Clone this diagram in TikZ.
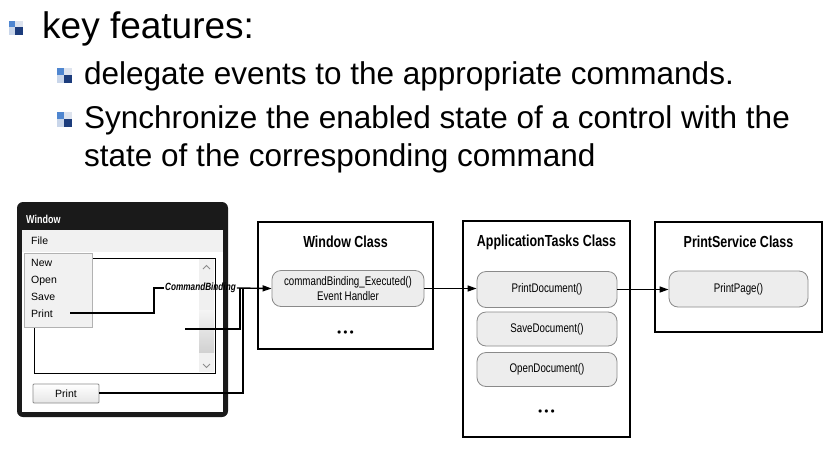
\documentclass[tikz,border=0pt]{standalone}
\usepackage{fontspec}
\setmainfont{Liberation Sans}
\newfontfamily\condfont[FakeStretch=0.78]{Liberation Sans}
\usetikzlibrary{arrows.meta}

\definecolor{blmid}{HTML}{4F86D0}
\definecolor{blpale}{HTML}{DDE3EE}
\definecolor{blsoft}{HTML}{C9D6EA}
\definecolor{bldark}{HTML}{1C3C7C}
\definecolor{methodfill}{HTML}{EDEDED}
\definecolor{methoddraw}{HTML}{8A8A8A}
\definecolor{menufill}{HTML}{F1F1F1}
\definecolor{framedark}{HTML}{1A1A1A}

\tikzset{
  pics/sqbullet/.style={code={
    \fill[blmid]  (0,0)     rectangle (0.45,0.45);
    \fill[blpale] (0.45,0)  rectangle (1,0.45);
    \fill[blsoft] (0,0.45)  rectangle (0.45,1);
    \fill[bldark] (0.45,0.45) rectangle (1,1);
  }},
  headline/.style={anchor=base west, inner sep=0pt, font=\fontsize{37}{37}\selectfont},
  subline/.style={anchor=base west, inner sep=0pt, font=\fontsize{31.5}{31.5}\selectfont},
  classbox/.style={draw=black, line width=1.6pt, fill=white},
  classtitle/.style={inner sep=0pt, font=\condfont\bfseries\fontsize{16}{16}\selectfont},
  method/.style={draw=methoddraw, line width=0.8pt, fill=methodfill, rounded corners=9pt,
    minimum height=36pt, align=center, inner sep=0pt,
    font=\condfont\fontsize{12.5}{15}\selectfont},
  dots/.style={inner sep=0pt, font=\bfseries\fontsize{8}{8}\selectfont},
  wire/.style={draw=black, line width=1.4pt},
  arrowwire/.style={wire, -{Triangle[length=9pt,width=6pt]}},
  menuitem/.style={anchor=base west, inner sep=0pt, font=\fontsize{10.5}{10.5}\selectfont},
}

\begin{document}
\begin{tikzpicture}[x=1pt,y=-1pt]
\useasboundingbox[fill=white] (0,0) rectangle (828,448);

% ---- bullet list ----
\pic[scale=14] at (9,21) {sqbullet};
\node[headline] (kf) at (42,38) {key features:};
\pic[scale=15] at (57,68) {sqbullet};
\node[subline] (i1) at (84,84) {delegate events to the appropriate commands.};
\pic[scale=15] at (57,112) {sqbullet};
\node[subline] (i2) at (84,128) {Synchronize the enabled state of a control with the};
\node[subline] (i3) at (84,166) {state of the corresponding command};

% ---- window mock-up ----
\fill[framedark, rounded corners=6pt] (17,202) -- (17,417) -- (228,417) -- (228,202) -- cycle;
\fill[white] (22,230) rectangle (223,412);
\fill[menufill] (22,230) rectangle (223,252);
\node[anchor=base west, inner sep=0pt, text=white, font=\condfont\bfseries\fontsize{11.5}{11.5}\selectfont] (wt) at (26,223) {Window};
\node[menuitem] (file) at (31,244) {File};
% list box with scroll bar
\draw[black, line width=0.8pt] (34,258) rectangle (215,373);
\fill[black!6] (199,259) rectangle (214,372);
\shade[top color=black!4, bottom color=black!18] (199,310) rectangle (214,352);
\draw[black!45, line width=1pt] (203,269) -- (206.5,265.5) -- (210,269);
\draw[black!45, line width=1pt] (203,364) -- (206.5,367.5) -- (210,364);
% drop-down menu
\draw[black!30, fill=menufill, line width=0.6pt] (24,253) rectangle (92,327);
\node[menuitem] (mnew)   at (31,266) {New};
\node[menuitem] (mopen)  at (31,283) {Open};
\node[menuitem] (msave)  at (31,300) {Save};
\node[menuitem] (mprint) at (31,317) {Print};
% button
\draw[black!45, top color=white, bottom color=black!10, rounded corners=1pt, line width=0.8pt]
  (33,384) rectangle (99,403);
\node[inner sep=0pt, font=\fontsize{10.5}{10.5}\selectfont] (bprint) at (66,393.5) {Print};

% ---- class boxes ----
\draw[classbox] (258,222) rectangle (433,349);
\node[classtitle] (wc) at (345.5,242) {Window Class};
\node[method, minimum width=152pt] (exec) at (348,288.5)
  {commandBinding\_Executed()\\Event Handler};
\node[dots] (wcdots) at (345.5,333) {$\bullet\bullet\bullet$};

\draw[classbox] (463,221) rectangle (630,437);
\node[classtitle] (atc) at (546.5,242) {ApplicationTasks Class};
\node[method, minimum width=140pt] (pdoc) at (547,289.5) {PrintDocument()};
\node[method, minimum width=140pt, minimum height=34pt] (sdoc) at (547,329) {SaveDocument()};
\node[method, minimum width=140pt, minimum height=34pt] (odoc) at (547,369.5) {OpenDocument()};
\node[dots] (atdots) at (546.5,412) {$\bullet\bullet\bullet$};

\draw[classbox] (655,222) rectangle (822,332);
\node[classtitle] (psc) at (738.5,242) {PrintService Class};
\node[method, minimum width=139pt] (ppage) at (738.5,289) {PrintPage()};

% ---- command binding wires ----
\node[inner sep=1pt, font=\condfont\bfseries\itshape\fontsize{10.5}{10.5}\selectfont] (cb) at (200.5,288) {CommandBinding};
\coordinate (mprintend) at (70,313);
\coordinate (textend) at (185,329);
\coordinate (btnend) at (99,393);
\coordinate (join1) at (240,288);
\coordinate (join2) at (243,288);
\draw[wire] (mprintend) -- (154,313) |- (cb.west);
\draw[wire] (textend) -| (join1);
\draw[wire] (btnend) -| (join2);
\draw[arrowwire] (cb.east) -- (exec.west);
\draw[arrowwire] (exec.east) -- (pdoc.west |- exec.east);
\draw[arrowwire] (pdoc.east) -- (ppage.west |- pdoc.east);
\end{tikzpicture}
\end{document}
